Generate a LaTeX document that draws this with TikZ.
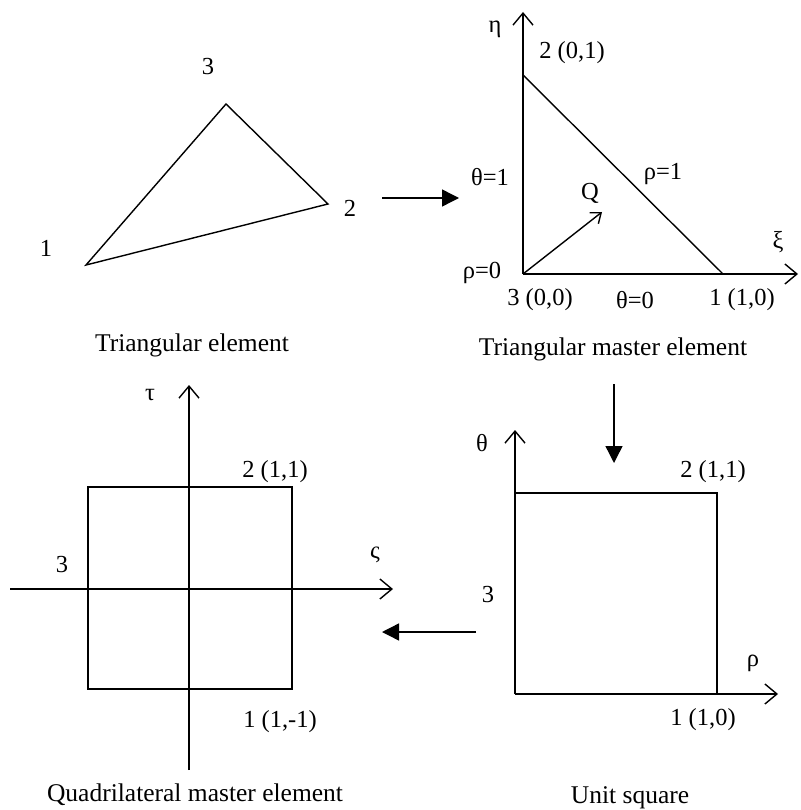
\documentclass[tikz,border=0pt]{standalone}
\usepackage{fontspec}
\setmainfont{Liberation Serif}
\usetikzlibrary{arrows.meta}
\begin{document}
\begin{tikzpicture}[x=1pt,y=-1pt, line width=1.4pt, line join=miter,
  lbl/.style={font=\fontsize{24.5}{28}\selectfont, inner sep=0pt},
  captext/.style={font=\fontsize{25.5}{30}\selectfont, inner sep=0pt},
  axis/.style={-{Straight Barb[length=12pt,width=20pt,line width=1.4pt]}},
  qarrow/.style={-{Straight Barb[length=9pt,width=14pt,line width=1.4pt]}},
  bigarrow/.style={-{Triangle[length=17pt,width=17pt]}}]
\useasboundingbox (0,0) rectangle (800,810);

% ---------- Triangular element ----------
\coordinate (t1) at (86,265);
\coordinate (t2) at (328,204);
\coordinate (t3) at (226,104);
\draw (t1) -- (t2) -- (t3) -- cycle;
\node[lbl] (l1) at (46,248) {1};
\node[lbl] (l2) at (350,208) {2};
\node[lbl] (l3) at (208,67) {3};
\node[captext] (cap1) at (192,345) {Triangular element};

% arrow right
\coordinate (a1s) at (382,198);
\coordinate (a1e) at (459,198);
\draw[bigarrow] (a1s) -- (a1e);

% ---------- Triangular master element ----------
\coordinate (o1) at (523,274);
\coordinate (ytop1) at (523,12);
\coordinate (xend1) at (798,274);
\coordinate (m2) at (523,75);
\coordinate (m1) at (723,274);
\coordinate (qend) at (602,212);
\draw[axis] (o1) -- (ytop1);
\draw[axis] (o1) -- (xend1);
\draw (m2) -- (m1);
\draw[qarrow] (o1) -- (qend);
\node[lbl] (eta) at (495,29) {η};
\node[lbl] (m2l) at (572,53) {2 (0,1)};
\node[lbl] (th1) at (490,177) {θ=1};
\node[lbl] (rho1) at (663,174) {ρ=1};
\node[lbl] (Q) at (590,193) {Q};
\node[lbl] (xi) at (778,242) {ξ};
\node[lbl] (rho0) at (482,273) {ρ=0};
\node[lbl] (m3l) at (540,300) {3 (0,0)};
\node[lbl] (th0) at (635,300) {θ=0};
\node[lbl] (m1l) at (742,300) {1 (1,0)};
\node[captext] (cap2) at (613,349) {Triangular master element};

% arrow down
\coordinate (a2s) at (614,384);
\coordinate (a2e) at (614,463);
\draw[bigarrow] (a2s) -- (a2e);

% ---------- Unit square ----------
\coordinate (o2) at (515,694);
\coordinate (ytop2) at (515,430);
\coordinate (xend2) at (778,694);
\coordinate (s1) at (717,694);
\coordinate (s2) at (717,493);
\coordinate (s3) at (515,493);
\draw[axis] (o2) -- (ytop2);
\draw[axis] (o2) -- (xend2);
\draw (s3) -- (s2) -- (s1);
\node[lbl] (thax) at (482,443) {θ};
\node[lbl] (s2l) at (713,472) {2 (1,1)};
\node[lbl] (s3l) at (488,595) {3};
\node[lbl] (rhoax) at (753,663) {ρ};
\node[lbl] (s1l) at (703,720) {1 (1,0)};
\node[captext] (cap3) at (630,798) {Unit square};

% arrow left
\coordinate (a3s) at (476,632);
\coordinate (a3e) at (382,632);
\draw[bigarrow] (a3s) -- (a3e);

% ---------- Quadrilateral master element ----------
\coordinate (vb) at (189,770);
\coordinate (vt) at (189,385);
\coordinate (hl) at (10,589);
\coordinate (hr) at (393,589);
\coordinate (qa) at (88,487);
\coordinate (qb) at (292,689);
\draw[axis] (vb) -- (vt);
\draw[axis] (hl) -- (hr);
\draw (qa) rectangle (qb);
\node[lbl] (tau) at (150,395) {τ};
\node[lbl] (q2l) at (275,472) {2 (1,1)};
\node[lbl] (vs) at (375,555) {ς};
\node[lbl] (q3l) at (62,565) {3};
\node[lbl] (q1l) at (280,722) {1 (1,-1)};
\node[captext] (cap4) at (195,795) {Quadrilateral master element};
\end{tikzpicture}
\end{document}
